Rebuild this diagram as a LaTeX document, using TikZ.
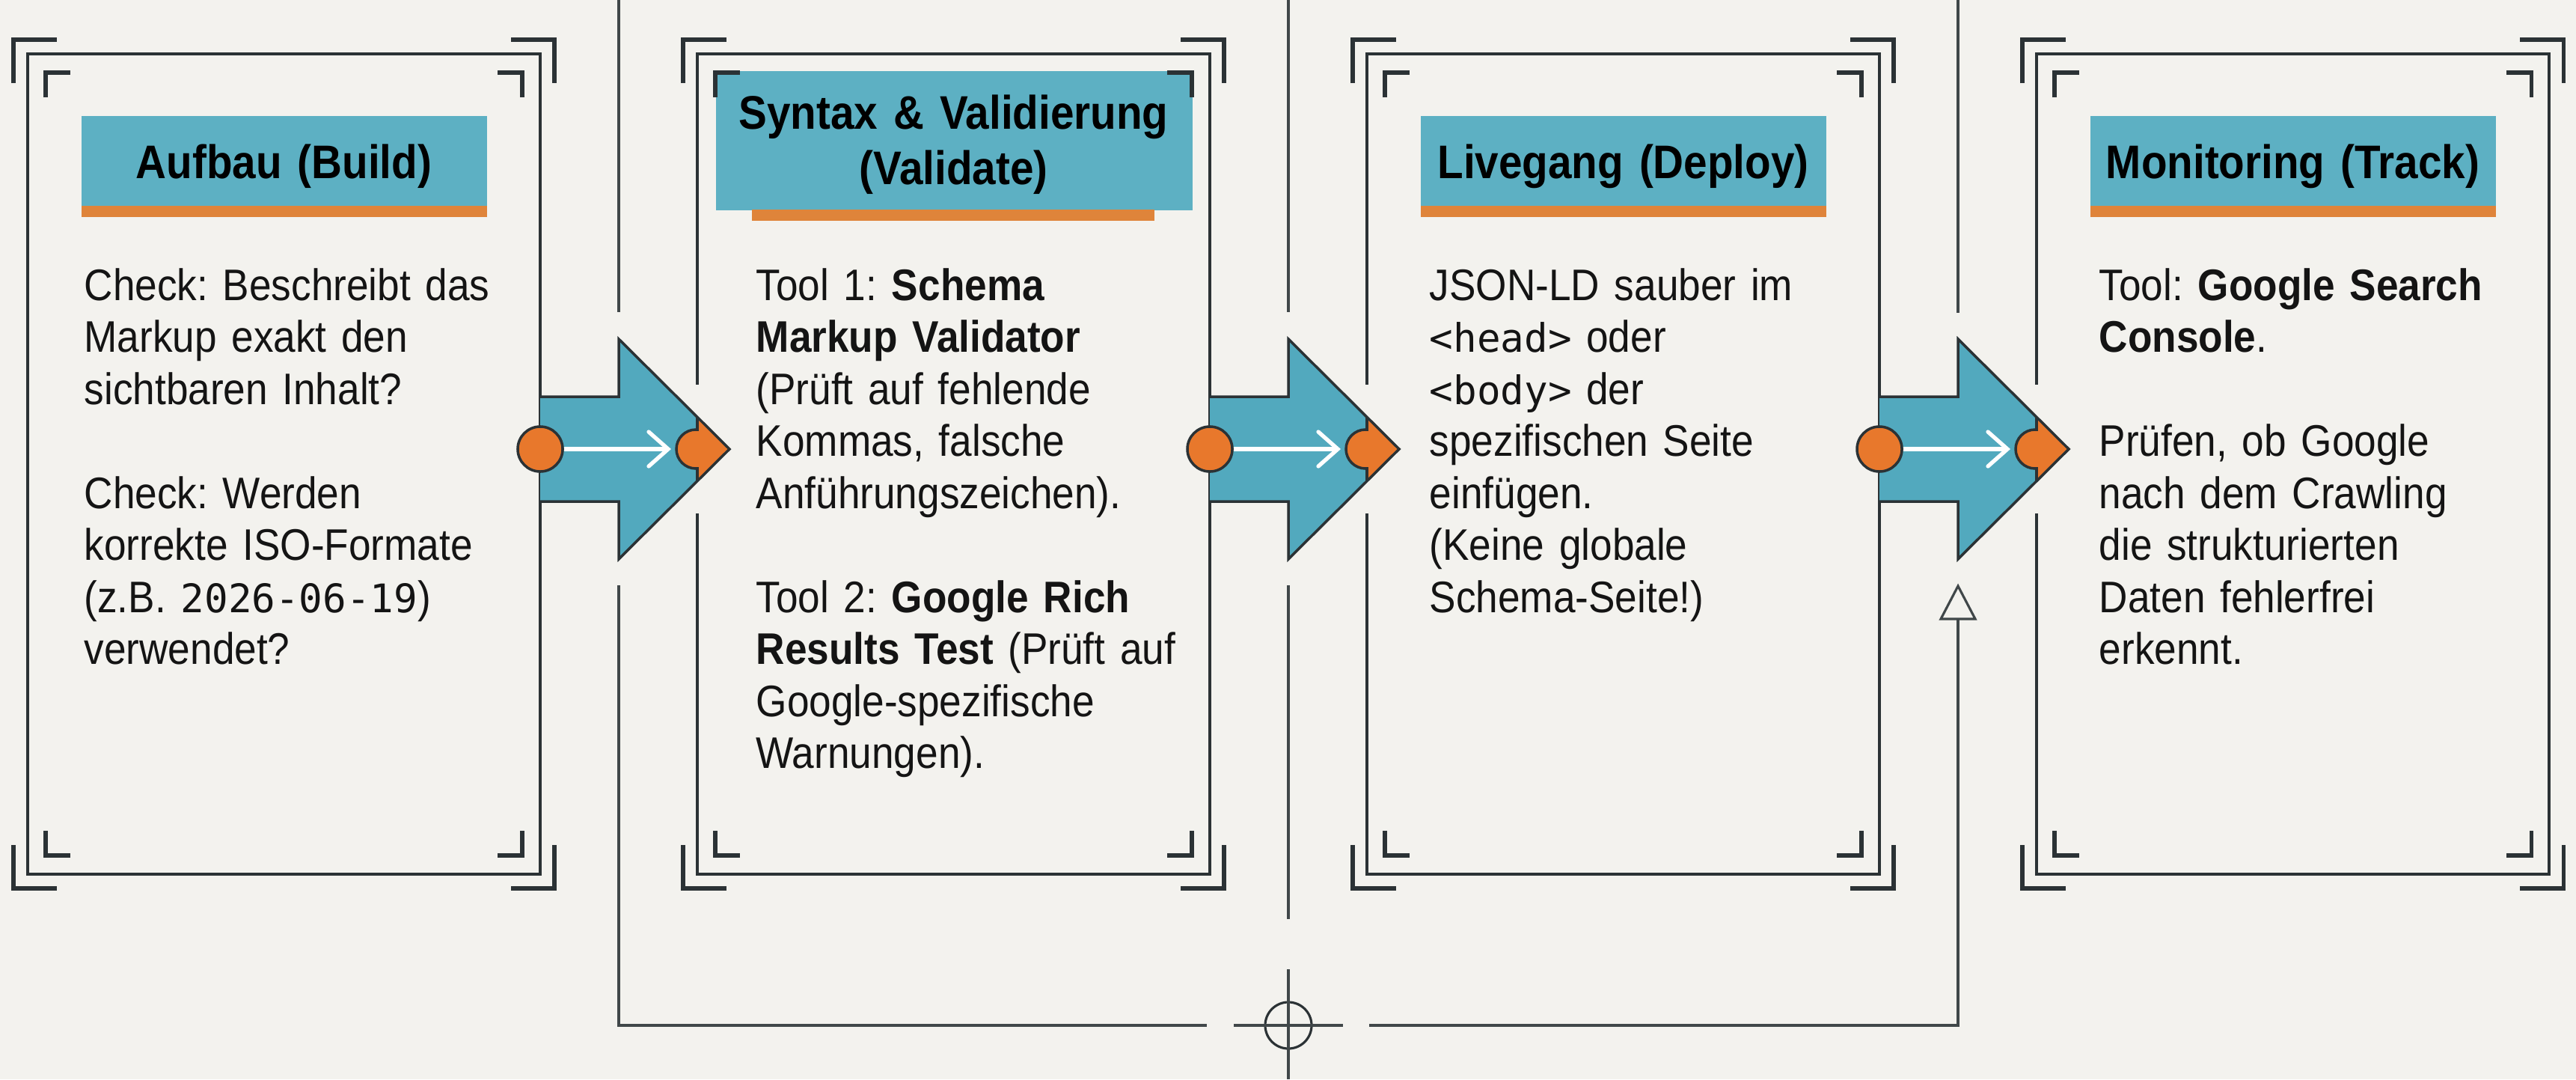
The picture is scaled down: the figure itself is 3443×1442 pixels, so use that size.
\documentclass[tikz,border=0pt]{standalone}
\usepackage{fontspec}
\setmainfont[FakeStretch=0.9]{Liberation Sans}
\setmonofont[Scale=0.89]{DejaVu Sans Mono}
\usetikzlibrary{calc}
\definecolor{bgc}{HTML}{F3F2EE}
\definecolor{ink}{HTML}{2B3235}
\definecolor{hdteal}{HTML}{5DB0C3}
\definecolor{arteal}{HTML}{52A9BE}
\definecolor{org}{HTML}{E8782C}
\definecolor{stripe}{HTML}{DF843A}
\definecolor{txt}{HTML}{141414}
\frenchspacing
\begin{document}
\begin{tikzpicture}[x=0.01cm,y=-0.01cm,
  panelbox/.style={draw=ink, line width=1.15pt, rectangle, minimum width=6.85cm, minimum height=10.96cm, inner sep=0, outer sep=0},
  bracket/.style={draw=ink, line width=1.45pt},
  divline/.style={draw=ink!90, line width=0.9pt},
  dot/.style={circle, minimum size=0.6cm, inner sep=0, fill=org, draw=ink, line width=1pt},
  body/.style={anchor=base west, inner sep=0, text width=6.3cm, align=left, font=\frenchspacing\fontsize{16.8}{19.77}\selectfont, text=txt},
  title/.style={anchor=base, inner sep=0, text width=6.4cm, align=center, font=\frenchspacing\fontsize{17.9}{21.3}\selectfont\bfseries, text=black}]
\useasboundingbox (0,0) rectangle (3443,1442);
\fill[bgc] (0,0) rectangle (3443,1442);

% dividers and feedback loop
\coordinate (d1) at (827,0);
\coordinate (d2) at (1722,0);
\coordinate (d3) at (2617,0);
\draw[divline] (d1) -- (827,417);
\draw[divline] (d2) -- (1722,417);
\draw[divline] (d3) -- (2617,418);
\draw[divline] (827,782) -- (827,1370) -- (1613,1370);
\draw[divline] (1722,782) -- (1722,1228);
\node[circle, draw=ink, line width=0.9pt, minimum size=0.62cm, inner sep=0] (cross) at (1722,1370) {};
\draw[divline] (1722,1295) -- (1722,1442);
\draw[divline] (1649,1370) -- (1795,1370);
\draw[divline] (1830,1370) -- (2617,1370) -- (2617,827);
\draw[divline, fill=bgc] (2617,783) -- (2594,827) -- (2640,827) -- cycle;

% panels
\foreach \L/\n in {37/1,932/2,1827/3,2722/4}{
  \node[panelbox] (p\n) at (\L+342.5,620) {};
}
% headers
\foreach \L in {37,1827,2722}{
  \fill[hdteal] (\L+72,155) rectangle (\L+614,276);
  \fill[stripe] (\L+72,275) rectangle (\L+614,290);
}
\fill[hdteal] (957,95) rectangle (1594,281);
\fill[stripe] (1005,280) rectangle (1543,295);

% brackets
\foreach \L in {37,932,1827,2722}{
  \draw[bracket] (\L-19,111) -- (\L-19,53) -- (\L+39,53);
  \draw[bracket] (\L+646,53) -- (\L+704,53) -- (\L+704,111);
  \draw[bracket] (\L-19,1129) -- (\L-19,1187) -- (\L+39,1187);
  \draw[bracket] (\L+646,1187) -- (\L+704,1187) -- (\L+704,1129);
  \draw[bracket] (\L+24,130) -- (\L+24,97) -- (\L+57,97);
  \draw[bracket] (\L+628,97) -- (\L+661,97) -- (\L+661,130);
  \draw[bracket] (\L+24,1110) -- (\L+24,1143) -- (\L+57,1143);
  \draw[bracket] (\L+628,1143) -- (\L+661,1143) -- (\L+661,1110);
}

% arrows between panels
\foreach \R/\i in {722/1,1617/2,2512/3}{
  \draw[bgc, line width=2.6pt] (\R+210,514) -- (\R+210,686);
  \fill[arteal] (\R,530) -- (\R+105,530) -- (\R+105,453) -- (\R+253,600) -- (\R+105,747) -- (\R+105,670) -- (\R,670) -- cycle;
  \fill[org] (\R+210,557.3) -- (\R+253,600) -- (\R+210,642.7) -- cycle;
  \begin{scope}
    \clip (\R+150,550) rectangle (\R+210,650);
    \filldraw[fill=org, draw=ink, line width=1pt] (\R+208,600) circle[radius=0.26cm];
  \end{scope}
  \draw[ink, line width=1.1pt] (\R+210,557) -- (\R+210,576) (\R+210,624) -- (\R+210,643);
  \draw[ink, line width=1pt, line join=miter] (\R,530) -- (\R+105,530) -- (\R+105,453) -- (\R+253,600) -- (\R+105,747) -- (\R+105,670) -- (\R,670);
  \node[dot] (o\i) at (\R,600) {};
  \draw[white, line width=1.5pt] (o\i.east) -- (\R+171,600);
  \draw[white, line width=1.5pt, line cap=round, line join=miter] (\R+145,577) -- (\R+171,600) -- (\R+145,623);
}

% titles
\node[title] (h1) at (379.5,238) {Aufbau (Build)};
\node[title] (h2) at (1274.5,172) {Syntax \& Validierung\\(Validate)};
\node[title] (h3) at (2169.5,238) {Livegang (Deploy)};
\node[title] (h4) at (3064.5,238) {Monitoring (Track)};

% bodies
\node[body] (t1) at (112,401) {Check: Beschreibt das\\Markup exakt den\\sichtbaren Inhalt?\\[19.77pt]Check: Werden\\korrekte ISO-Formate\\(z.B. \texttt{2026-06-19})\\verwendet?};
\node[body] (t2) at (1010,401) {Tool 1: \textbf{Schema}\\\textbf{Markup Validator}\\(Prüft auf fehlende\\Kommas, falsche\\Anführungszeichen).\\[19.77pt]Tool 2: \textbf{Google Rich}\\\textbf{Results Test} (Prüft auf\\Google-spezifische\\Warnungen).};
\node[body] (t3) at (1910,401) {JSON-LD sauber im\\\texttt{<head>} oder\\\texttt{<body>} der\\spezifischen Seite\\einfügen.\\(Keine globale\\Schema-Seite!)};
\node[body] (t4) at (2805,401) {Tool: \textbf{Google Search}\\\textbf{Console}.\\[19.77pt]Prüfen, ob Google\\nach dem Crawling\\die strukturierten\\Daten fehlerfrei\\erkennt.};
\end{tikzpicture}
\end{document}
